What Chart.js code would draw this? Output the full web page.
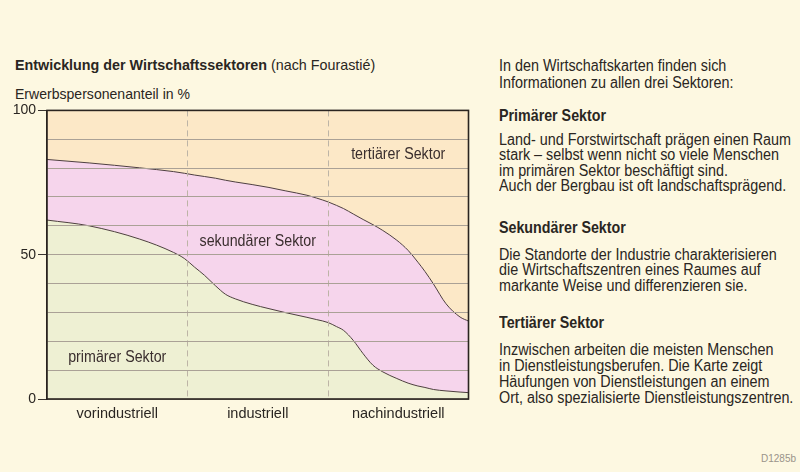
<!DOCTYPE html>
<html><head><meta charset="utf-8">
<script src="https://cdn.jsdelivr.net/npm/chart.js@4.4.1/dist/chart.umd.min.js"></script>
<style>
html,body{margin:0;padding:0;width:800px;height:472px;background:#fdf8e1;overflow:hidden;
font-family:"Liberation Sans Narrow","Liberation Sans",Arial,sans-serif;color:#2a2622}
.t{position:absolute;white-space:nowrap;font-size:16px;line-height:16px;left:499px;transform-origin:0 0}
.h{font-weight:bold;font-size:17px;line-height:17px}
#wrap{position:absolute;left:0;top:100px;width:480px;height:330px}
</style></head><body>
<div class="t" id="title" style="left:15px;top:57px;font-size:15px;line-height:15px"><b id="titleB">Entwicklung der Wirtschaftssektoren</b> (nach Fourastié)</div>
<div class="t" id="sub" style="left:15px;top:86px;font-size:15px;line-height:15px">Erwerbspersonenanteil in %</div>

<div class="t body" style="top:58px;line-height:16.6px">In den Wirtschaftskarten finden sich<br>Informationen zu allen drei Sektoren:</div>
<div class="t h" id="h1" style="top:107px">Primärer Sektor</div>
<div class="t body" style="top:131.5px;line-height:15.6px"><span id="ref1">Land- und Forstwirtschaft prägen einen Raum</span><br>stark – selbst wenn nicht so viele Menschen<br>im primären Sektor beschäftigt sind.<br>Auch der Bergbau ist oft landschaftsprägend.</div>
<div class="t h" style="top:218.5px">Sekundärer Sektor</div>
<div class="t body" style="top:246.5px;line-height:15.9px">Die Standorte der Industrie charakterisieren<br>die Wirtschaftszentren eines Raumes auf<br>markante Weise und differenzieren sie.</div>
<div class="t h" style="top:313.5px">Tertiärer Sektor</div>
<div class="t body" style="top:341.5px;line-height:16.1px">Inzwischen arbeiten die meisten Menschen<br>in Dienstleistungsberufen. Die Karte zeigt<br>Häufungen von Dienstleistungen an einem<br>Ort, also spezialisierte Dienstleistungszentren.</div>
<div class="t" style="left:761px;top:454px;font-size:10px;line-height:10px;color:#9a948a">D1285b</div>

<div id="wrap"><canvas id="c"></canvas></div>
<script>
// Development stages (x-axis categories, each spans 100 units on the position axis)
const categories = ['vorindustriell', 'industriell', 'nachindustriell'];
// Position along the development axis (0–300)
const stagePos  = [0, 30, 66, 90, 98, 105, 112, 120, 127, 134, 146, 158, 170, 185, 192, 200, 206, 211, 218, 225, 232, 239, 249, 257, 264, 269, 275, 284, 294, 300];
// Share of workforce per sector in %
const primary   = [62.0, 60.0, 55.4, 50.8, 48.6, 45.7, 42.9, 39.2, 36.3, 34.7, 32.8, 31.3, 29.9, 28.3, 27.5, 26.5, 25.1, 23.8, 20.3, 15.7, 11.7, 9.4, 7.1, 5.5, 4.5, 4.0, 3.3, 2.8, 2.4, 2.2];
const secondary = [21.0, 21.8, 24.7, 28.0, 29.6, 31.9, 34.2, 37.3, 39.5, 40.5, 41.5, 42.0, 42.2, 42.3, 42.1, 41.8, 42.0, 42.2, 43.8, 46.5, 48.7, 49.0, 47.9, 46.0, 42.9, 40.2, 36.6, 30.2, 26.0, 24.8];
const tertiary  = [17.0, 18.2, 19.9, 21.2, 21.8, 22.4, 22.9, 23.5, 24.2, 24.8, 25.7, 26.7, 27.9, 29.4, 30.4, 31.7, 32.9, 34.0, 35.9, 37.8, 39.6, 41.6, 45.0, 48.5, 52.6, 55.8, 60.1, 67.0, 71.6, 73.0];
const sectorLabels = ['primärer Sektor', 'sekundärer Sektor', 'tertiärer Sektor'];
const yTickLabels = [0, 50, 100];

// squeeze the HTML texts horizontally to imitate the condensed typeface
function squeeze(sel, measureEl, target) {
  const k = target / measureEl.getBoundingClientRect().width;
  document.querySelectorAll(sel).forEach(e => e.style.transform = 'scaleX(' + k + ')');
}
squeeze('.body', document.getElementById('ref1'), 292);
squeeze('.h', document.getElementById('h1'), 107);
squeeze('#title', document.getElementById('titleB'), 252);
squeeze('#sub', document.getElementById('sub'), 175);

const pts = arr => stagePos.map((x, i) => ({x, y: arr[i]}));
const FONT = '"Liberation Sans Narrow","Liberation Sans",Arial,sans-serif';

// redraw the scales' own grid lines on top of the filled areas
const gridOnTop = {
  id: 'gridOnTop',
  afterDatasetsDraw(chart) {
    chart.scales.x.drawGrid(chart.chartArea);
    chart.scales.y.drawGrid(chart.chartArea);
  }
};
const frame = {
  id: 'frame',
  afterDraw(chart) {
    const {ctx, chartArea: a} = chart;
    ctx.save();
    ctx.setLineDash([]);
    ctx.strokeStyle = '#2a2420';
    ctx.lineWidth = 1.6;
    ctx.strokeRect(a.left, a.top, a.right - a.left, a.bottom - a.top);
    ctx.restore();
  }
};
const areaLabels = {
  id: 'areaLabels',
  afterDraw(chart) {
    const {ctx, scales: {x, y}} = chart;
    const spots = [[50, 14.5], [150, 54.5], [250, 84.8]];
    ctx.save();
    ctx.font = '16px ' + FONT;
    ctx.fillStyle = '#3a2e2e';
    ctx.textAlign = 'center';
    ctx.textBaseline = 'middle';
    spots.forEach((s, i) => {
      ctx.save();
      ctx.translate(x.getPixelForValue(s[0]), y.getPixelForValue(s[1]));
      ctx.scale(0.89, 1);
      ctx.fillText(sectorLabels[i], 0, 0);
      ctx.restore();
    });
    ctx.restore();
  }
};

const lineCol = '#4e3f40';
new Chart(document.getElementById('c'), {
  type: 'line',
  data: {
    datasets: [
      {label: sectorLabels[0], data: pts(primary), fill: 'origin', backgroundColor: '#eef0d3', borderColor: lineCol, borderWidth: 1},
      {label: sectorLabels[1], data: pts(secondary), fill: '-1', backgroundColor: '#f6d5ec', borderColor: lineCol, borderWidth: 1},
      {label: sectorLabels[2], data: pts(tertiary), fill: '-1', backgroundColor: '#fce8c7', borderColor: 'rgba(0,0,0,0)', borderWidth: 0}
    ]
  },
  options: {
    responsive: true,
    maintainAspectRatio: false,
    animation: false,
    layout: {padding: {top: 9, right: 11.5, left: 0, bottom: 0}},
    elements: {point: {radius: 0}, line: {cubicInterpolationMode: 'monotone'}},
    plugins: {legend: {display: false}, tooltip: {enabled: false}},
    scales: {
      x: {
        type: 'linear', min: 0, max: 300,
        afterBuildTicks: s => { s.ticks = [0, 50, 100, 150, 200, 250, 300].map(v => ({value: v})); },
        afterFit: s => { s.height = 31; },
        ticks: {
          padding: 6, color: '#2a2622', font: {family: FONT, size: 14.5}, maxRotation: 0, autoSkip: false,
          callback: v => (v % 100 === 50 ? categories[(v - 50) / 100] : '')
        },
        grid: {
          drawTicks: false, lineWidth: 1,
          color: c => (c.tick && (c.tick.value === 100 || c.tick.value === 200)) ? '#bdb4a6' : 'rgba(0,0,0,0)'
        },
        border: {display: true, color: '#2a2420', width: 1.6, dash: [6, 4]}
      },
      y: {
        min: 0, max: 100, stacked: true,
        afterFit: s => { s.width = 47; },
        ticks: {
          stepSize: 10, padding: 2, color: '#2a2622', font: {family: FONT, size: 14},
          callback: v => (yTickLabels.includes(v) ? String(v) : '')
        },
        grid: {
          tickLength: 9, lineWidth: 1,
          color: c => (c.tick && (c.tick.value === 0 || c.tick.value === 100)) ? 'rgba(0,0,0,0)' : '#aaa196',
          tickColor: c => (c.tick && yTickLabels.includes(c.tick.value)) ? '#3a3430' : 'rgba(0,0,0,0)'
        },
        border: {display: true, color: '#2a2420', width: 1.6}
      }
    }
  },
  plugins: [gridOnTop, frame, areaLabels]
});
</script>
</body></html>
